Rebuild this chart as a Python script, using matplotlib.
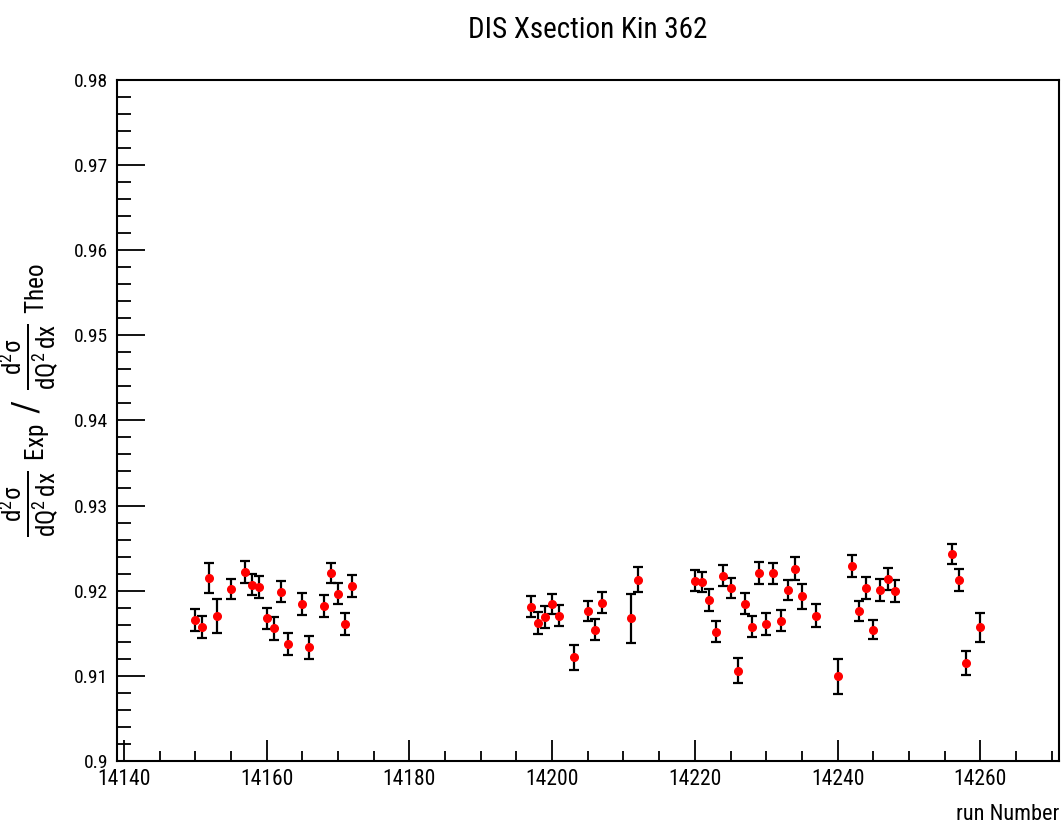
import matplotlib
matplotlib.use("Agg")
import matplotlib.pyplot as plt
from matplotlib.ticker import MultipleLocator, FuncFormatter

# ROOT-like narrow helvetica
fam = ['Liberation Sans Narrow', 'Roboto Condensed', 'Liberation Sans', 'DejaVu Sans']
plt.rcParams['font.family'] = fam
plt.rcParams['mathtext.fontset'] = 'custom'
plt.rcParams['mathtext.rm'] = 'Liberation Sans'
plt.rcParams['mathtext.it'] = 'Liberation Sans'
plt.rcParams['mathtext.default'] = 'regular'

title = "DIS Xsection Kin 362"
xlabel = "run Number"
ylabel = (r"$\frac{d^{2}\sigma}{dQ^{2}\,dx}_{\ Exp}\ /\ "
          r"\frac{d^{2}\sigma}{dQ^{2}\,dx}_{\ Theo}$")

runs = [14150, 14151, 14152, 14153, 14155, 14157, 14158, 14159, 14160, 14161,
        14162, 14163, 14165, 14166, 14168, 14169, 14170, 14171, 14172,
        14197, 14198, 14199, 14200, 14201, 14203, 14205, 14206, 14207, 14211, 14212,
        14220, 14221, 14222, 14223, 14224, 14225, 14226, 14227, 14228, 14229,
        14230, 14231, 14232, 14233, 14234, 14235, 14237, 14240, 14242, 14243,
        14244, 14245, 14246, 14247, 14248, 14256, 14257, 14258, 14260]
ratio = [0.91655, 0.91576, 0.92145, 0.91706, 0.92020, 0.92215, 0.92067, 0.92039, 0.91674, 0.91557,
         0.91988, 0.91373, 0.91843, 0.91333, 0.91816, 0.92208, 0.91961, 0.91608, 0.92051,
         0.91812, 0.91620, 0.91686, 0.91843, 0.91706, 0.91216, 0.91765, 0.91541, 0.91855, 0.91674, 0.92130,
         0.92118, 0.92106, 0.91890, 0.91518, 0.92176, 0.92032, 0.91059, 0.91843, 0.91576, 0.92204,
         0.91608, 0.92204, 0.91647, 0.92008, 0.92255, 0.91933, 0.91706, 0.90992, 0.92294, 0.91757,
         0.92027, 0.91541, 0.92008, 0.92137, 0.91992, 0.92432, 0.92126, 0.91149, 0.91568]
err = [0.00127, 0.00129, 0.00176, 0.00200, 0.00114, 0.00127, 0.00124, 0.00129, 0.00121, 0.00133,
       0.00127, 0.00127, 0.00129, 0.00138, 0.00129, 0.00118, 0.00124, 0.00129, 0.00127,
       0.00121, 0.00132, 0.00127, 0.00121, 0.00121, 0.00144, 0.00118, 0.00120, 0.00124, 0.00288, 0.00147,
       0.00127, 0.00118, 0.00132, 0.00127, 0.00127, 0.00120, 0.00151, 0.00124, 0.00121, 0.00127,
       0.00133, 0.00126, 0.00121, 0.00121, 0.00135, 0.00147, 0.00133, 0.00209, 0.00129, 0.00118,
       0.00127, 0.00115, 0.00132, 0.00133, 0.00127, 0.00118, 0.00127, 0.00141, 0.00171]

fig = plt.figure(figsize=(10.61, 8.26), dpi=100)
ax1 = fig.add_axes([0.110, 0.079, 0.888, 0.824])

ax1.errorbar(runs, ratio, yerr=err, fmt='o', color='red', markersize=5.5,
             mec='red', ecolor='black', elinewidth=1.6, capsize=3.5, capthick=1.6)

ax1.set_xlim(14139, 14271)
ax1.set_ylim(0.9, 0.98)

ax1.xaxis.set_major_locator(MultipleLocator(20))
ax1.xaxis.set_minor_locator(MultipleLocator(5))
ax1.yaxis.set_major_locator(MultipleLocator(0.01))
ax1.yaxis.set_minor_locator(MultipleLocator(0.002))
ax1.yaxis.set_major_formatter(FuncFormatter(lambda v, p: f"{v:.2f}".rstrip('0')))

ax1.tick_params(axis='both', which='both', direction='in', top=False, right=False, width=1.3)
ax1.tick_params(axis='y', which='major', length=20, labelsize=14, pad=6)
ax1.tick_params(axis='y', which='minor', length=10)
ax1.tick_params(axis='x', which='major', length=15, labelsize=15.5, pad=6)
ax1.tick_params(axis='x', which='minor', length=7.5)
for s in ax1.spines.values():
    s.set_linewidth(1.5)

ax1.set_title(title, fontsize=21, pad=30)
ax1.set_xlabel(xlabel, fontsize=16, loc='right', labelpad=10)
ax1.set_ylabel(ylabel, fontsize=26)
ax1.yaxis.set_label_coords(-0.059, 0.53)

fig.savefig("out.png", dpi=100)
